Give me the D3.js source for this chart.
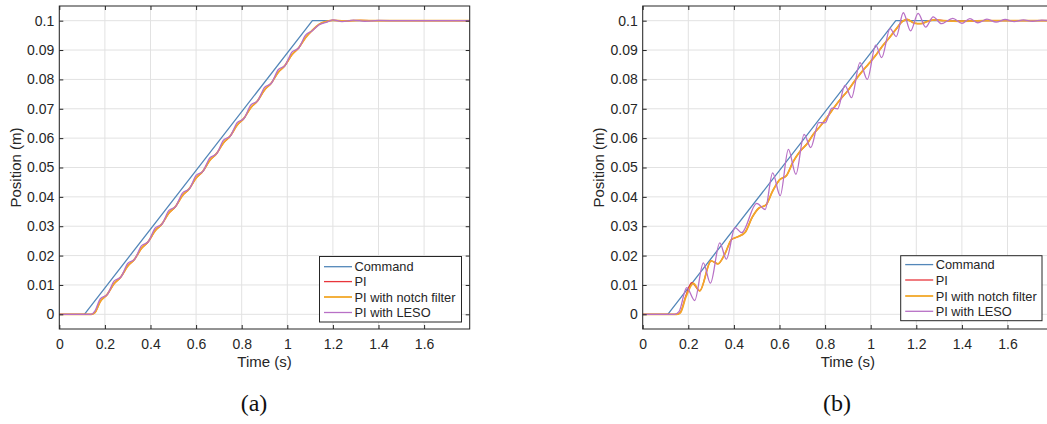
<!DOCTYPE html>
<html><head><meta charset="utf-8">
<script src="https://cdn.jsdelivr.net/npm/d3@7"></script>
<style>body{margin:0;background:#fff}svg{display:block}</style>
</head><body>
<svg id="chart" width="1047" height="424"></svg>
<script>
// ---------- data ----------
const seriesNames = ["Command", "PI", "PI with notch filter", "PI with LESO"];
const xTicks = [0, 0.2, 0.4, 0.6, 0.8, 1, 1.2, 1.4, 1.6];
const xTickLabels = ["0", "0.2", "0.4", "0.6", "0.8", "1", "1.2", "1.4", "1.6"];
const yTicks = [0, 0.01, 0.02, 0.03, 0.04, 0.05, 0.06, 0.07, 0.08, 0.09, 0.1];
const yTickLabels = ["0", "0.01", "0.02", "0.03", "0.04", "0.05", "0.06", "0.07", "0.08", "0.09", "0.1"];
const captions = ["(a)", "(b)"];

// panel (a)
const commandA = [[0,0],[0.11,0],[1.11,0.1],[1.8,0.1]];
const piA = [[0,0],[0.14,0],[0.155,0.0005],[0.18,0.0044],[0.21,0.0067],[0.24,0.0104],[0.27,0.0127],[0.30,0.0164],[0.33,0.0187],[0.36,0.0224],[0.39,0.0247],[0.42,0.0284],[0.45,0.0307],[0.48,0.0344],[0.51,0.0367],[0.54,0.0404],[0.57,0.0427],[0.60,0.0464],[0.63,0.0487],[0.66,0.0524],[0.69,0.0547],[0.72,0.0584],[0.75,0.0607],[0.78,0.0644],[0.81,0.0667],[0.84,0.0704],[0.87,0.0727],[0.90,0.0764],[0.93,0.0787],[0.96,0.0824],[0.99,0.0847],[1.02,0.0884],[1.05,0.0907],[1.08,0.0942],[1.11,0.0967],[1.14,0.0988],[1.17,0.0997],[1.20,0.1001],[1.25,0.0999],[1.32,0.1001],[1.4,0.1],[1.8,0.1]];
const notchA = [[0,0],[0.14,0],[0.155,0.0005],[0.18,0.0044],[0.21,0.0068],[0.24,0.0104],[0.27,0.0128],[0.30,0.0164],[0.33,0.0188],[0.36,0.0224],[0.39,0.0248],[0.42,0.0284],[0.45,0.0308],[0.48,0.0344],[0.51,0.0368],[0.54,0.0404],[0.57,0.0428],[0.60,0.0464],[0.63,0.0488],[0.66,0.0524],[0.69,0.0548],[0.72,0.0584],[0.75,0.0608],[0.78,0.0644],[0.81,0.0668],[0.84,0.0704],[0.87,0.0728],[0.90,0.0764],[0.93,0.0788],[0.96,0.0824],[0.99,0.0848],[1.02,0.0884],[1.05,0.0908],[1.08,0.0942],[1.11,0.0968],[1.14,0.0988],[1.17,0.0997],[1.20,0.1001],[1.25,0.0999],[1.32,0.1001],[1.4,0.1],[1.8,0.1]];
const lesoA = [[0,0],[0.14,0],[0.155,0.0010],[0.18,0.0053],[0.21,0.0067],[0.24,0.0113],[0.27,0.0127],[0.30,0.0173],[0.33,0.0187],[0.36,0.0233],[0.39,0.0247],[0.42,0.0293],[0.45,0.0307],[0.48,0.0353],[0.51,0.0367],[0.54,0.0413],[0.57,0.0427],[0.60,0.0473],[0.63,0.0487],[0.66,0.0533],[0.69,0.0547],[0.72,0.0593],[0.75,0.0607],[0.78,0.0653],[0.81,0.0667],[0.84,0.0713],[0.87,0.0727],[0.90,0.0773],[0.93,0.0787],[0.96,0.0833],[0.99,0.0847],[1.02,0.0893],[1.05,0.0907],[1.08,0.0951],[1.11,0.0966],[1.14,0.0986],[1.17,0.0994],[1.20,0.1003],[1.24,0.0997],[1.29,0.1002],[1.34,0.0998],[1.40,0.1001],[1.5,0.1],[1.8,0.1]];

// panel (b)
const commandB = [[0,0],[0.11,0],[1.11,0.1],[1.8,0.1]];
const piB = [[0,0],[0.15,0],[0.165,0.0006],[0.19,0.0065],[0.215,0.0108],[0.25,0.0080],[0.30,0.0182],[0.33,0.0172],[0.36,0.0205],[0.39,0.0255],[0.42,0.0265],[0.45,0.0280],[0.48,0.0330],[0.51,0.0362],[0.54,0.0372],[0.57,0.0420],[0.60,0.0458],[0.63,0.0472],[0.66,0.0520],[0.69,0.0555],[0.72,0.0580],[0.75,0.0615],[0.78,0.0642],[0.81,0.0672],[0.84,0.0705],[0.87,0.0735],[0.90,0.0762],[0.93,0.0795],[0.96,0.0825],[0.99,0.0852],[1.02,0.0880],[1.05,0.0912],[1.08,0.0940],[1.11,0.0970],[1.14,0.0998],[1.16,0.1004],[1.19,0.0992],[1.22,0.0990],[1.25,0.0998],[1.28,0.1003],[1.32,0.1000],[1.4,0.0998],[1.5,0.1],[1.8,0.1]];
const notchB = [[0,0],[0.15,0],[0.165,0.0005],[0.19,0.0060],[0.222,0.0105],[0.25,0.0080],[0.30,0.0182],[0.33,0.0172],[0.36,0.0205],[0.39,0.0255],[0.42,0.0265],[0.45,0.0280],[0.48,0.0330],[0.51,0.0362],[0.54,0.0372],[0.57,0.0420],[0.60,0.0458],[0.63,0.0472],[0.66,0.0520],[0.69,0.0555],[0.72,0.0580],[0.75,0.0615],[0.78,0.0642],[0.81,0.0672],[0.84,0.0705],[0.87,0.0735],[0.90,0.0762],[0.93,0.0795],[0.96,0.0825],[0.99,0.0852],[1.02,0.0880],[1.05,0.0912],[1.08,0.0940],[1.11,0.0970],[1.14,0.0998],[1.16,0.1004],[1.19,0.0992],[1.22,0.0990],[1.25,0.0998],[1.28,0.1003],[1.32,0.1000],[1.4,0.0998],[1.5,0.1],[1.8,0.1]];
const lesoB = [[0,0],[0.14,0],[0.16,0.001],[0.193,0.0091],[0.228,0.0047],[0.266,0.0175],[0.297,0.0106],[0.338,0.0243],[0.367,0.0188],[0.405,0.0295],[0.434,0.0278],[0.50,0.0378],[0.537,0.0357],[0.57,0.0482],[0.603,0.0404],[0.639,0.0562],[0.672,0.0477],[0.708,0.0613],[0.737,0.0568],[0.772,0.0653],[0.80,0.0652],[0.83,0.0702],[0.855,0.0700],[0.887,0.0780],[0.916,0.0738],[0.953,0.0857],[0.985,0.0800],[1.022,0.0917],[1.048,0.0874],[1.085,0.0973],[1.112,0.0946],[1.143,0.1027],[1.175,0.0965],[1.208,0.1025],[1.241,0.0978],[1.274,0.1013],[1.31,0.0990],[1.36,0.1008],[1.40,0.0991],[1.435,0.1007],[1.47,0.0993],[1.51,0.1005],[1.55,0.0995],[1.59,0.1004],[1.63,0.0997],[1.67,0.1003],[1.71,0.0998],[1.75,0.1002],[1.8,0.0999]];

// ---------- styles / layout ----------
const colors = ["#5387b9", "#e8353b", "#f2a829", "#b870c6"];
const widths = [1.3, 1.3, 1.8, 1.3];
const ink = "#262626";
const sansFont = "'Liberation Sans', Arial, Helvetica, sans-serif";

const panels = [
  {x0: 59.3, x1: 469.7, y0: 6, y1: 329, data: [commandA, piA, notchA, lesoA],
   legend: {x: 319.5, y: 256.5, w: 142, h: 65.5, rows: [266.7, 281.6, 297.0, 312.5]}, capX: 254},
  {x0: 642.7, x1: 1053.1, y0: 6, y1: 329, data: [commandB, piB, notchB, lesoB],
   legend: {x: 900.7, y: 255.7, w: 141.3, h: 65, rows: [264.6, 280.0, 296.0, 311.3]}, capX: 837}
];

const svg = d3.select("#chart");

panels.forEach((p, pi) => {
  const x = d3.scaleLinear().domain([0, 1.8]).range([p.x0, p.x1]);
  const y = d3.scaleLinear().domain([-0.005, 0.105]).range([p.y1, p.y0]);
  const g = svg.append("g");

  const clipId = "clip" + pi;
  g.append("clipPath").attr("id", clipId).append("rect")
    .attr("x", p.x0).attr("y", p.y0).attr("width", p.x1 - p.x0).attr("height", p.y1 - p.y0);

  // grid
  const grid = g.append("g").attr("stroke", "#e2e2e2").attr("stroke-width", 1);
  grid.selectAll(".gx").data(xTicks.concat([1.8])).join("line")
    .attr("x1", d => x(d)).attr("x2", d => x(d)).attr("y1", p.y0).attr("y2", p.y1);
  grid.selectAll(".gy").data(yTicks).join("line")
    .attr("x1", p.x0).attr("x2", p.x1).attr("y1", d => y(d)).attr("y2", d => y(d));

  // series
  const line = d3.line().x(d => x(d[0])).y(d => y(d[1])).curve(d3.curveMonotoneX);
  const lineLin = d3.line().x(d => x(d[0])).y(d => y(d[1]));
  const lines = g.append("g").attr("clip-path", `url(#${clipId})`);
  p.data.forEach((s, i) => {
    lines.append("path").datum(s)
      .attr("d", i === 0 ? lineLin : line)
      .attr("fill", "none").attr("stroke", colors[i]).attr("stroke-width", widths[i])
      .attr("stroke-linejoin", "round");
  });

  // axes
  const fmtX = d => xTickLabels[xTicks.indexOf(d)];
  const fmtY = d => yTickLabels[yTicks.indexOf(d)];
  const axB = g.append("g").attr("transform", `translate(0,${p.y1})`)
    .call(d3.axisBottom(x).tickValues(xTicks).tickFormat(fmtX).tickSize(-4).tickPadding(10));
  const axT = g.append("g").attr("transform", `translate(0,${p.y0})`)
    .call(d3.axisTop(x).tickValues(xTicks).tickFormat("").tickSize(-4));
  const axL = g.append("g").attr("transform", `translate(${p.x0},0)`)
    .call(d3.axisLeft(y).tickValues(yTicks).tickFormat(fmtY).tickSize(-4).tickPadding(5));
  const axR = g.append("g").attr("transform", `translate(${p.x1},0)`)
    .call(d3.axisRight(y).tickValues(yTicks).tickFormat("").tickSize(-4));
  [axB, axT, axL, axR].forEach(a => {
    a.select(".domain").remove();
    a.selectAll(".tick line").attr("stroke", ink).attr("stroke-width", 1);
    a.selectAll(".tick text").attr("fill", ink).style("font-family", sansFont).style("font-size", "14px");
  });
  g.append("rect").attr("x", p.x0).attr("y", p.y0).attr("width", p.x1 - p.x0).attr("height", p.y1 - p.y0)
    .attr("fill", "none").attr("stroke", ink).attr("stroke-width", 1);

  // labels
  g.append("text").attr("x", (p.x0 + p.x1) / 2).attr("y", 366.5).attr("text-anchor", "middle")
    .attr("fill", ink).style("font-family", sansFont).style("font-size", "15px").text("Time (s)");
  g.append("text").attr("transform", `translate(${p.x0 - 38.6},${(p.y0 + p.y1) / 2}) rotate(-90)`)
    .attr("text-anchor", "middle").attr("fill", ink)
    .style("font-family", sansFont).style("font-size", "15px").text("Position (m)");

  // legend
  const L = p.legend;
  const lg = g.append("g");
  lg.append("rect").attr("x", L.x).attr("y", L.y).attr("width", L.w).attr("height", L.h)
    .attr("fill", "#fff").attr("stroke", ink).attr("stroke-width", 1);
  seriesNames.forEach((n, i) => {
    lg.append("line").attr("x1", L.x + 4.5).attr("x2", L.x + 32.5)
      .attr("y1", L.rows[i]).attr("y2", L.rows[i])
      .attr("stroke", colors[i]).attr("stroke-width", widths[i]);
    lg.append("text").attr("x", L.x + 35).attr("y", L.rows[i] + 4.6)
      .attr("fill", ink).style("font-family", sansFont).style("font-size", "12.8px").text(n);
  });

  // caption
  g.append("text").attr("x", p.capX).attr("y", 411).attr("text-anchor", "middle")
    .attr("fill", "#111").style("font-family", "'Liberation Serif', 'Times New Roman', serif")
    .style("font-size", "24px").text(captions[pi]);
});
</script>
</body></html>
